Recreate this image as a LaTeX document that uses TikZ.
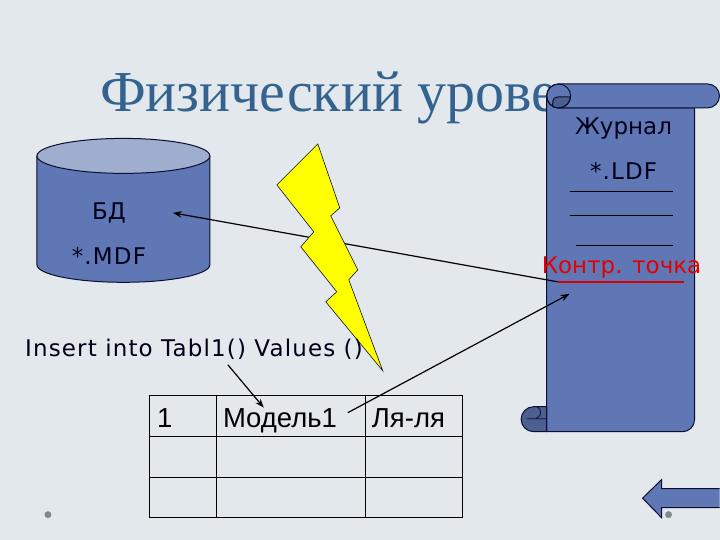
\documentclass[tikz,border=0pt]{standalone}
\usepackage{fontspec}
\usetikzlibrary{arrows.meta}
\setmainfont{DejaVu Sans}
\newfontfamily\titlefont{Liberation Serif}
\newfontfamily\cellfont{Liberation Sans}
\newfontfamily\widefont[LetterSpace=5]{DejaVu Sans}
\definecolor{slide}{HTML}{E3E8EC}
\definecolor{bluefill}{HTML}{5F77B5}
\definecolor{darkfill}{HTML}{4C5F91}
\definecolor{lightfill}{HTML}{9FADCF}
\definecolor{titleblue}{HTML}{35638F}
\definecolor{dotgrey}{HTML}{808A8C}
\definecolor{bolt}{HTML}{FFFF00}
\definecolor{linedark}{HTML}{0A0F30}

\begin{document}
\begin{tikzpicture}[x=1pt,y=-1pt]
  \tikzstyle{txt}=[inner sep=0pt, font=\fontsize{23}{27}\selectfont, text=black!90!blue]
  \tikzstyle{wide}=[inner sep=0pt, font=\widefont\fontsize{23}{27}\selectfont, text=black!90!blue]
  \tikzstyle{blueshape}=[draw=linedark, line width=1pt, fill=bluefill]
  \tikzstyle{rule}=[draw=black, line width=0.8pt]
  \tikzstyle{cell}=[draw=black, line width=1pt, inner sep=0pt, outer sep=0pt, minimum height=40.7pt]
  \tikzstyle{celltxt}=[inner sep=0pt, anchor=base west, font=\cellfont\fontsize{27.5}{32}\selectfont]
  \tikzstyle{dot}=[circle, fill=dotgrey, minimum width=7pt, inner sep=0pt]
  \tikzstyle{link}=[-{Stealth[length=9pt, width=6.5pt]}, line width=1.2pt]

  \path[fill=slide] (0, 0) rectangle (720, 540);

  \node[inner sep=0pt, anchor=base west, text=titleblue, font=\titlefont\fontsize{58}{64}\selectfont] (title) at (100, 112) {Физический уровень};

  % scroll
  \draw[blueshape] (547, 96) -- (547, 432) -- (683, 432) arc (90:0:12) -- (695, 108) -- (559, 108) -- cycle;
  \draw[blueshape, fill=darkfill] (547, 407) -- (534, 407) arc (-90:-270:12.5) -- (547, 432) -- cycle;
  \draw[draw=linedark, line width=0.8pt] (537, 407) arc (-70:70:6) (527, 419) -- (547, 419);
  \draw[blueshape] (559, 84) -- (708, 84) arc (-90:90:12) -- (559, 108) arc (90:270:12) -- cycle;
  \draw[blueshape, fill=darkfill] (553, 104) .. controls (553, 99) and (555, 97) .. (559, 97) -- (571, 97) arc (5:120:12) -- cycle;
  \draw[draw=linedark, line width=1pt] (559, 96) circle (12);

  \node[txt] (log) at (624, 129) {Журнал};
  \node[wide] (ldf) at (624, 171) {*.LDF};
  \node[txt, text=red!90!black] (point) at (622, 268) {Контр. точка};
  \coordinate (l1a) at (570, 192);
  \coordinate (l1b) at (673, 192);
  \coordinate (l2a) at (570, 216);
  \coordinate (l2b) at (673, 216);
  \coordinate (l3a) at (576, 246);
  \coordinate (l3b) at (673, 246);
  \coordinate (p1) at (558, 282);
  \coordinate (p2) at (684, 282);
  \path[rule] (l1a) -- (l1b);
  \path[rule] (l2a) -- (l2b);
  \path[rule] (l3a) -- (l3b);
  \draw[red!85!black, line width=1.5pt] (p1) -- (p2);

  % database
  \draw[blueshape] (37, 156) -- (37, 265) arc (180:0:86.5 and 17.5) -- (210, 156);
  \draw[blueshape, fill=lightfill] (123.5, 156) ellipse (86.5 and 17.5);
  \node[txt] (db) at (109, 213) {БД};
  \node[wide] (mdf) at (109, 256) {*.MDF};

  % arrows
  \coordinate (dbend) at (173, 213);
  \coordinate (pointend) at (570, 294);
  \coordinate (modstart) at (348, 413);
  \coordinate (insstart) at (228, 365);
  \coordinate (modend) at (264, 408);
  \draw[link] (p1) -- (dbend);

  \draw[draw=linedark, line width=0.6pt, fill=bolt] (318, 144) -- (340, 208) -- (331, 216) -- (358, 270) -- (349, 280) -- (383, 371) -- (326, 302) -- (337, 292) -- (301, 247) -- (314, 232) -- (277, 185) -- cycle;

  \node[wide, anchor=base west] (ins) at (25, 357) {Insert into Tabl1() Values ()};

  % table
  \node[cell, minimum width=66.5pt] (c11) at (183.25, 416.5) {};
  \node[cell, minimum width=149.5pt] (c12) at (291.25, 416.5) {};
  \node[cell, minimum width=97pt] (c13) at (414.5, 416.5) {};
  \node[cell, minimum width=66.5pt] (c21) at (183.25, 457) {};
  \node[cell, minimum width=149.5pt] (c22) at (291.25, 457) {};
  \node[cell, minimum width=97pt] (c23) at (414.5, 457) {};
  \node[cell, minimum width=66.5pt] (c31) at (183.25, 497.7) {};
  \node[cell, minimum width=149.5pt] (c32) at (291.25, 497.7) {};
  \node[cell, minimum width=97pt] (c33) at (414.5, 497.7) {};
  \node[celltxt] (t1) at (157, 428) {1};
  \node[celltxt] (t2) at (223, 428) {Модель1};
  \node[celltxt] (t3) at (372, 428) {Ля-ля};

  \draw[link] (insstart) -- (modend);
  \draw[link] (modstart) -- (pointend);

  % back button
  \draw[blueshape] (720, 489) -- (662, 489) -- (662, 480) -- (643, 498.5) -- (662, 518) -- (662, 508) -- (720, 508);
  \node[dot] (d1) at (48, 515) {};
  \node[dot] (d2) at (669, 515) {};
\end{tikzpicture}
\end{document}
